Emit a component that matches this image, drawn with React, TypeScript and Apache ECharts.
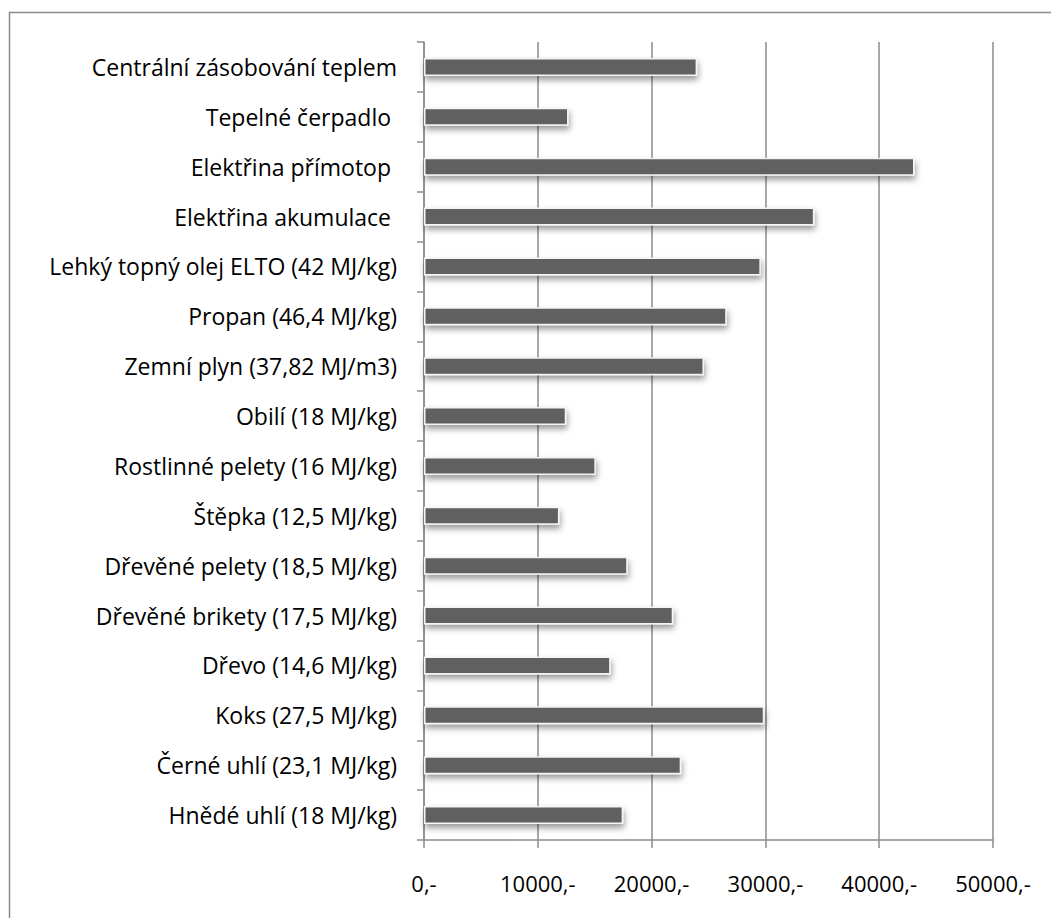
import React, { useEffect, useRef } from "react";
import * as echarts from "echarts";

// Heating cost per year by fuel / heat source (CZK)
const categories = [
  "Centrální zásobování teplem",
  "Tepelné čerpadlo ",
  "Elektřina přímotop ",
  "Elektřina akumulace ",
  "Lehký topný olej ELTO (42 MJ/kg)",
  "Propan (46,4 MJ/kg)",
  "Zemní plyn (37,82 MJ/m3)",
  "Obilí (18 MJ/kg)",
  "Rostlinné pelety (16 MJ/kg)",
  "Štěpka (12,5 MJ/kg)",
  "Dřevěné pelety (18,5 MJ/kg)",
  "Dřevěné brikety (17,5 MJ/kg)",
  "Dřevo (14,6 MJ/kg)",
  "Koks (27,5 MJ/kg)",
  "Černé uhlí (23,1 MJ/kg)",
  "Hnědé uhlí (18 MJ/kg)",
];

const costs = [
  24000, 12700, 43100, 34300, 29600, 26600, 24600, 12500, 15100, 11900, 17900,
  21900, 16400, 29900, 22600, 17500,
];

const xTicks = [0, 10000, 20000, 30000, 40000, 50000];

const FONT = "'Open Sans', 'DejaVu Sans', sans-serif";

export default function App() {
  const ref = useRef<HTMLDivElement>(null);

  useEffect(() => {
    if (!ref.current) return;
    const chart = echarts.init(ref.current, null, { renderer: "svg" });
    chart.setOption({
      animation: false,
      backgroundColor: "#ffffff",
      grid: { left: 424, right: 58, top: 42, bottom: 78, containLabel: false },
      xAxis: {
        type: "value",
        min: xTicks[0],
        max: xTicks[xTicks.length - 1],
        interval: xTicks[1] - xTicks[0],
        axisLine: { show: true, lineStyle: { color: "#8c8c8c", width: 1.5 } },
        axisTick: { show: true, length: 8, lineStyle: { color: "#8c8c8c", width: 1.5 } },
        splitLine: { show: true, lineStyle: { color: "#8c8c8c", width: 1.5 } },
        axisLabel: {
          margin: 32,
          color: "#000",
          fontFamily: FONT,
          fontSize: 22,
          formatter: (v: number) => `${v},-`,
        },
      },
      yAxis: {
        type: "category",
        inverse: true,
        data: categories,
        axisLine: { show: true, lineStyle: { color: "#8c8c8c", width: 1.5 } },
        axisTick: { show: true, length: 7, lineStyle: { color: "#8c8c8c", width: 1.5 } },
        splitLine: { show: false },
        axisLabel: {
          margin: 27,
          color: "#000",
          fontFamily: FONT,
          fontSize: 23,
        },
      },
      series: [
        {
          type: "bar",
          data: costs,
          barWidth: 18,
          itemStyle: {
            color: "#616161",
            borderColor: "#f4f4f4",
            borderWidth: 1.5,
            shadowColor: "rgba(0,0,0,0.4)",
            shadowBlur: 6,
            shadowOffsetX: 1,
            shadowOffsetY: 4,
          },
        },
      ],
      graphic: [
        {
          type: "rect",
          silent: true,
          shape: { x: 9.5, y: 12.5, width: 1100, height: 1000 },
          style: { fill: "none", stroke: "#8c8c8c", lineWidth: 1.5 },
        },
      ],
    });
    return () => chart.dispose();
  }, []);

  return (
    <div
      ref={ref}
      style={{ position: "fixed", left: 0, top: 0, width: 1051, height: 918 }}
    />
  );
}
